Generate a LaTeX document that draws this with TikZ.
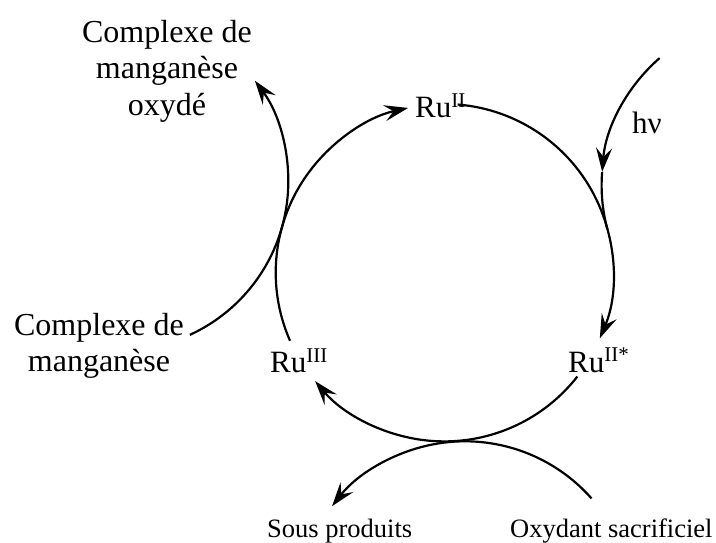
\documentclass[tikz,border=0pt]{standalone}
\usepackage{fontspec}
\setmainfont{Liberation Serif}
\usetikzlibrary{arrows.meta,calc}
\newcommand{\supr}[1]{\raisebox{10pt}{\fontsize{21}{21}\selectfont #1}}
\begin{document}
\begin{tikzpicture}[x=1pt,y=1pt,
  conn/.style={line width=2.2pt},
  arr/.style={conn,-{Stealth[length=24pt,width=16pt,inset=9pt]}},
  big/.style={font=\fontsize{32}{36.5}\selectfont, inner sep=0pt, align=center},
  small/.style={font=\fontsize{26.5}{30}\selectfont, inner sep=0pt},
  ru/.style={font=\fontsize{31}{35}\selectfont, inner sep=0pt}]
\useasboundingbox (0,0) rectangle (716,542);
\def\rr{168.7}
\coordinate (O) at (444.4,269.3);
\coordinate (M) at (119.6,360.5);
\coordinate (B) at (465,-68);
\coordinate (H) at (770.3,356.6);
% labels
\node[big, anchor=north] (mnox) at (167,522) {Complexe de\\manganèse\\oxydé};
\node[big, anchor=north] (mn) at (99,229) {Complexe de\\manganèse};
\node[ru, anchor=base west] (ru2) at (415,424) {Ru\supr{II}};
\node[ru, anchor=base west] (ru2s) at (568,170) {Ru\supr{II*}};
\node[ru, anchor=base west] (ru3) at (270,169) {Ru\supr{III}};
\node[ru, anchor=base west] (hv) at (632,408) {hν};
\node[small, anchor=base west] (sp) at (267,5) {Sous produits};
\node[small, anchor=base west] (ox) at (510,5) {Oxydant sacrificiel};
% main cycle
\draw[arr] ($(O)+(203.8:\rr)$) arc[start angle=203.8, end angle=102.4, radius=\rr];
\draw[arr] ($(O)+(85.5:\rr)$) arc[start angle=85.5, end angle=-22.9, radius=\rr];
\draw[arr] ($(O)+(-38:\rr)$) arc[start angle=-38, end angle=-140, radius=\rr];
% manganese
\draw[arr] ($(M)+(-65.4:\rr)$) arc[start angle=-65.4, end angle=36.7, radius=\rr];
% sacrificial oxidant
\draw[arr] ($(B)+(41.4:\rr)$) arc[start angle=41.4, end angle=142, radius=\rr];
% light
\draw[arr] ($(H)+(131:\rr)$) arc[start angle=131, end angle=175.4, radius=\rr];
\draw[conn] ($(H)+(175.4:\rr)$) arc[start angle=175.4, end angle=195, radius=\rr];
\end{tikzpicture}
\end{document}
